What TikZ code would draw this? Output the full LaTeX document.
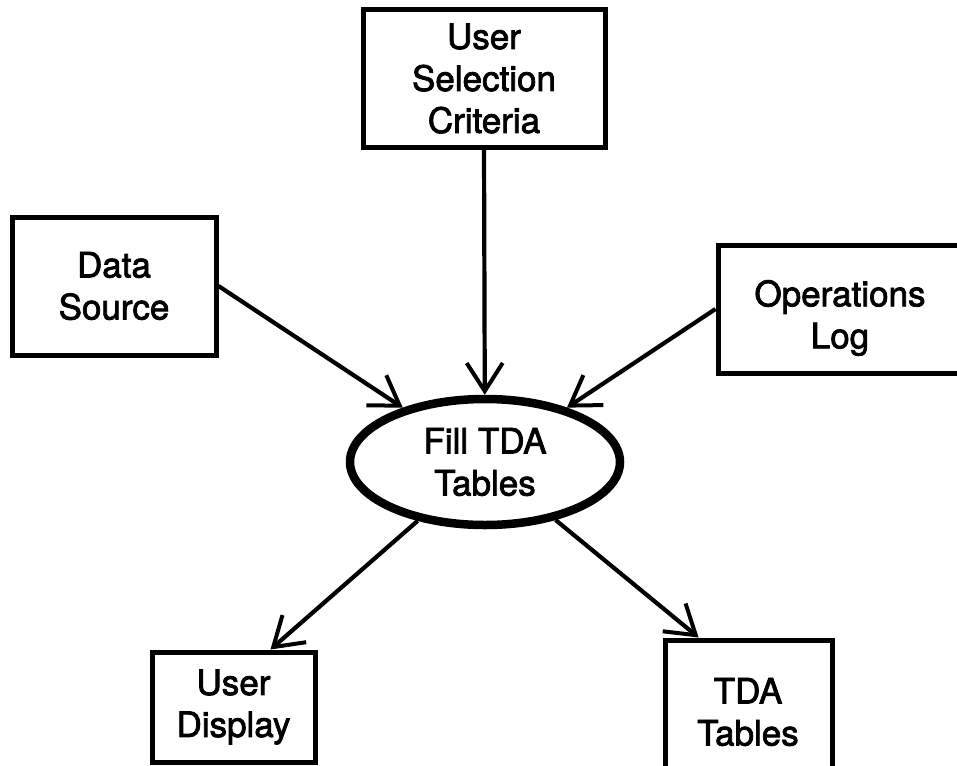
\documentclass[tikz,border=0pt]{standalone}
\usepackage{fontspec}
\setmainfont{TeX Gyre Heros}[FakeBold=2.2]
\usetikzlibrary{arrows.meta,shapes.geometric,calc}

\tikzset{
  label font/.style={font=\fontsize{35}{42}\selectfont},
  box/.style={draw, line width=5pt, rectangle, inner sep=0pt, align=center,
              label font},
  proc/.style={draw, line width=8.5pt, ellipse, inner sep=0pt, align=center,
               minimum width=270pt, minimum height=126pt, label font},
  flow/.style={line width=4.2pt,
               -{Straight Barb[length=28pt,width=36pt,line width=4pt]}}
}

\begin{document}
\begin{tikzpicture}[x=1pt,y=-1pt]
  \useasboundingbox (0,0) rectangle (957,765);
  \clip (0,0) rectangle (957,765);

  % boxes around the process
  \node[box, minimum width=242pt, minimum height=137pt] (usc) at (484,78.5)
    {User\\Selection\\Criteria};
  \node[box, minimum width=204pt, minimum height=138pt] (ds) at (114,286)
    {Data\\Source};
  \node[box, minimum width=262pt, minimum height=128pt] (ops) at (849,309) {};
  \node[box, minimum width=163pt, minimum height=110pt] (ud) at (233.5,707)
    {User\\Display};
  \node[box, minimum width=167pt, minimum height=160pt] (tda) at (748.5,720) {};

  % texts of boxes that run past the edge
  \node[label font, align=center] (opst) at (840,318) {Operations\\Log};
  \node[label font, align=center] (tdat) at (748,712) {TDA\\Tables};

  % central process
  \node[proc] (fill) at (485,462) {Fill TDA\\Tables};

  % connectors
  \draw[flow] (usc.south) -- (fill);
  \draw[flow] (ds.east) -- (fill);
  \draw[flow] (ops.west) -- (fill);
  \draw[flow] (fill) -- ($(ud.north west)!0.72!(ud.north east)$);
  \draw[flow] (fill) -- ($(tda.north west)!0.21!(tda.north east)$);
\end{tikzpicture}
\end{document}
